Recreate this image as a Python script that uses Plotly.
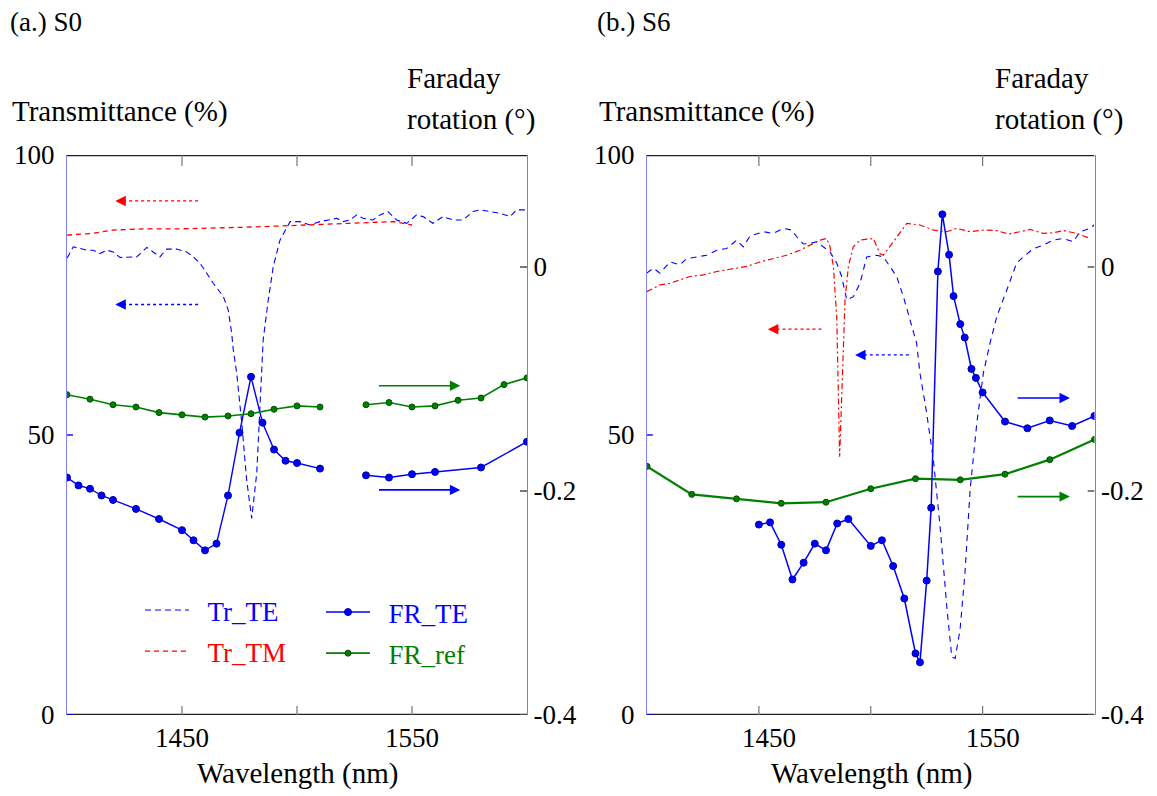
import plotly.graph_objects as go

W, H = 1157, 796
FONT = "Liberation Serif, Times New Roman, serif"
BLUE, RED, GREEN = "#0000ff", "#ff0000", "#008000"

# ---------------- Panel (a) S0 ----------------
a_tr_te_wl = [1400.1, 1402.7, 1405.7, 1408.6, 1411.4, 1414.3, 1417.3, 1420.1, 1423.0, 1426.0, 1430.3, 1434.7,
              1437.5, 1440.4, 1443.3, 1447.7, 1452.0, 1454.9, 1457.8, 1460.7, 1463.6, 1468.0, 1470.1, 1471.6,
              1472.3, 1473.8, 1476.0, 1478.1, 1480.3, 1482.5, 1483.9, 1485.3, 1487.5, 1489.7, 1492.6, 1497.0,
              1501.3, 1505.7, 1510.0, 1514.3, 1517.3, 1520.0, 1523.0, 1526.0, 1528.7, 1533.0, 1536.1, 1539.6,
              1543.3, 1547.7, 1552.0, 1554.8, 1559.1, 1563.5, 1567.8, 1572.2, 1576.5, 1579.6, 1583.9, 1588.3,
              1592.6, 1595.5, 1599.1]
a_tr_te = [81.6, 83.6, 83.3, 83.0, 83.0, 82.4, 83.0, 82.7, 81.7, 81.7, 81.8, 83.5, 82.7, 81.8, 83.2, 83.2, 82.7,
           81.8, 80.7, 78.9, 77.1, 74.7, 72.3, 68.2, 65.2, 61.0, 52.1, 42.0, 35.1, 43.2, 55.1, 67.0, 74.1, 80.1,
           84.8, 88.1, 88.1, 87.5, 88.1, 88.4, 88.7, 88.1, 88.4, 89.3, 88.7, 88.4, 89.3, 89.9, 88.4, 87.8, 89.3,
           89.0, 87.8, 89.0, 88.4, 88.4, 89.9, 90.2, 89.9, 89.6, 89.0, 90.2, 90.2]

a_tr_tm_wl = [1400, 1411, 1420, 1433, 1448, 1462, 1477, 1491, 1506, 1520, 1535, 1542, 1550]
a_tr_tm = [85.7, 86.0, 86.6, 86.8, 86.8, 86.9, 87.1, 87.3, 87.5, 87.8, 87.9, 88.1, 87.5]

a_fr_ref_wl = [1400, 1410, 1420, 1430, 1440, 1450, 1460, 1470, 1480, 1490, 1500, 1510, 1520,
               1530, 1540, 1550, 1560, 1570, 1580, 1590, 1600]
a_fr_ref = [-0.114, -0.118, -0.123, -0.125, -0.130, -0.132, -0.134, -0.133, -0.131, -0.127, -0.124, -0.125, None,
            -0.123, -0.121, -0.125, -0.124, -0.119, -0.117, -0.105, -0.099]

a_fr_te_wl = [1400, 1405, 1410, 1415, 1420, 1430, 1440, 1450, 1455, 1460, 1465, 1470, 1475, 1480, 1485, 1490,
              1495, 1500, 1510, 1520, 1530, 1540, 1550, 1560, 1580, 1600]
a_fr_te = [-0.188, -0.195, -0.198, -0.204, -0.208, -0.216, -0.225, -0.235, -0.244, -0.253, -0.247, -0.204, -0.148,
           -0.098, -0.139, -0.163, -0.173, -0.175, -0.180, None, -0.186, -0.188, -0.185, -0.183, -0.179, -0.156]

# ---------------- Panel (b) S6 ----------------
b_tr_te_wl = [1399.9, 1402.8, 1405.8, 1410.3, 1414.7, 1417.7, 1422.2, 1426.7, 1431.2, 1435.6, 1440.1, 1443.0,
              1446.0, 1452.0, 1456.4, 1460.9, 1464.7, 1466.9, 1469.9, 1472.8, 1475.8, 1478.8, 1481.8, 1484.8,
              1487.0, 1489.3, 1492.2, 1495.2, 1498.2, 1502.7, 1505.6, 1508.6, 1511.6, 1514.6, 1517.5, 1520.5,
              1522.0, 1525.0, 1528.0, 1531.0, 1534.0, 1536.2, 1537.7, 1539.9, 1542.1, 1544.4, 1547.4, 1550.3,
              1553.3, 1556.3, 1560.8, 1565.2, 1568.2, 1572.7, 1577.1, 1581.6, 1586.1, 1590.5, 1593.5, 1598.0,
              1599.8]
b_tr_te = [78.9, 79.8, 78.9, 80.9, 80.4, 81.5, 81.8, 82.1, 83.0, 83.3, 84.8, 83.6, 85.5, 86.3, 86.0, 86.9, 86.6,
           85.4, 84.1, 84.2, 84.5, 83.6, 82.7, 80.7, 78.3, 74.1, 74.7, 77.1, 81.8, 82.1, 81.8, 80.1, 78.3, 74.7,
           70.5, 66.4, 61.0, 53.9, 45.5, 33.6, 19.3, 10.4, 10.1, 15.2, 25.3, 40.2, 52.1, 61.0, 66.4, 71.1, 75.9,
           80.7, 81.8, 83.3, 83.9, 84.8, 85.1, 84.5, 86.3, 86.9, 87.5]

b_tr_tm_wl = [1399.9, 1405.8, 1410.3, 1414.7, 1419.2, 1425.2, 1431.2, 1437.1, 1444.6, 1450.5, 1456.4, 1462.4,
              1468.4, 1472.8, 1477.3, 1480.3, 1481.8, 1483.3, 1484.8, 1486.1, 1488.0, 1488.5, 1490.0, 1492.2,
              1495.2, 1501.1, 1504.1, 1505.6, 1510.1, 1516.1, 1522.0, 1528.0, 1533.9, 1538.4, 1544.4, 1550.3,
              1556.3, 1561.5, 1566.7, 1571.2, 1577.1, 1581.6, 1586.1, 1592.0, 1598.0]
b_tr_tm = [75.6, 76.8, 77.1, 77.7, 78.3, 78.6, 79.2, 79.6, 80.1, 80.9, 81.5, 82.1, 83.0, 83.9, 84.8, 85.1, 83.6,
           80.1, 71.1, 46.1, 67.0, 74.1, 80.1, 83.6, 84.8, 85.1, 82.4, 82.1, 84.5, 87.8, 87.5, 86.6, 86.3, 86.9,
           86.3, 86.6, 86.5, 85.9, 86.3, 86.7, 86.0, 86.1, 86.5, 86.0, 85.1]

b_fr_ref_wl = [1400, 1420, 1440, 1460, 1480, 1500, 1520, 1540, 1560, 1580, 1600]
b_fr_ref = [-0.178, -0.203, -0.207, -0.211, -0.210, -0.198, -0.189, -0.190, -0.185, -0.172, -0.154]

b_fr_te_wl = [1450, 1455, 1460, 1465, 1470, 1475, 1480, 1485, 1490, 1500, 1505, 1510, 1515, 1520, 1522, 1525,
              1527, 1530, 1532, 1535, 1537, 1540, 1542, 1545, 1547, 1550, 1560, 1570, 1580, 1590, 1600]
b_fr_te = [-0.230, -0.228, -0.248, -0.279, -0.264, -0.247, -0.253, -0.229, -0.225, -0.249, -0.244, -0.267, -0.296,
           -0.345, -0.353, -0.280, -0.215, -0.004, 0.047, 0.011, -0.026, -0.051, -0.063, -0.091, -0.099, -0.112,
           -0.138, -0.144, -0.137, -0.142, -0.133]

# Axis ranges and ticks
x_range = [1400, 1600]
t_range = [0, 100]
fr_range = [-0.4, 0.1]
x_ticks = [1450, 1500, 1550]
x_ticktext = ["1450", "", "1550"]
t_ticks = [0, 50, 100]
fr_ticks = [0, -0.2, -0.4]
fr_ticktext = ["0", "-0.2", "-0.4"]

# Direction arrows: (panel, axis, x_tail, x_head, y, color, dotted)
arrows = [
    ("a", "T", 1457, 1421, 91.8, RED, True),
    ("a", "T", 1457, 1421, 73.3, BLUE, True),
    ("a", "FR", 1535, 1571, -0.106, GREEN, False),
    ("a", "FR", 1535, 1571, -0.199, BLUE, False),
    ("b", "T", 1478, 1454, 68.9, RED, True),
    ("b", "T", 1517, 1493, 64.3, BLUE, True),
    ("b", "FR", 1565, 1589, -0.117, BLUE, False),
    ("b", "FR", 1565, 1589, -0.205, GREEN, False),
]

fig = go.Figure()

def col(name, c):
    return f"<span style='color:{c}'>&nbsp;&nbsp;{name}</span>"

marker_blue = dict(symbol="circle", size=7, color=BLUE, line=dict(color="#0000a0", width=1))
marker_green = dict(symbol="circle", size=6, color=GREEN, line=dict(color="#005000", width=1))

# Panel a traces
fig.add_trace(go.Scatter(x=a_tr_te_wl, y=a_tr_te, mode="lines", name=col("Tr_TE", BLUE),
                         line=dict(color=BLUE, width=1.1, dash="6px,4px"), xaxis="x", yaxis="y",
                         legend="legend", legendgroup="g1"))
fig.add_trace(go.Scatter(x=a_tr_tm_wl, y=a_tr_tm, mode="lines", name=col("Tr_TM", RED),
                         line=dict(color=RED, width=1.3, dash="5px,4px"), xaxis="x", yaxis="y",
                         legend="legend", legendgroup="g2"))
fig.add_trace(go.Scatter(x=a_fr_te_wl, y=a_fr_te, mode="lines+markers", name=col("FR_TE", BLUE),
                         line=dict(color=BLUE, width=1.4), marker=marker_blue, xaxis="x", yaxis="y2",
                         connectgaps=False, legend="legend2", legendgroup="g3"))
fig.add_trace(go.Scatter(x=a_fr_ref_wl, y=a_fr_ref, mode="lines+markers", name=col("FR_ref", GREEN),
                         line=dict(color=GREEN, width=1.6), marker=marker_green, xaxis="x", yaxis="y2",
                         connectgaps=False, legend="legend2", legendgroup="g4"))

# Panel b traces
fig.add_trace(go.Scatter(x=b_tr_te_wl, y=b_tr_te, mode="lines", showlegend=False,
                         line=dict(color=BLUE, width=1.1, dash="6px,5px"), xaxis="x2", yaxis="y3"))
fig.add_trace(go.Scatter(x=b_tr_tm_wl, y=b_tr_tm, mode="lines", showlegend=False,
                         line=dict(color=RED, width=1.2, dash="6px,3px,2px,3px"), xaxis="x2", yaxis="y3"))
fig.add_trace(go.Scatter(x=b_fr_ref_wl, y=b_fr_ref, mode="lines+markers", showlegend=False,
                         line=dict(color=GREEN, width=2.2), marker=marker_green, xaxis="x2", yaxis="y4"))
fig.add_trace(go.Scatter(x=b_fr_te_wl, y=b_fr_te, mode="lines+markers", showlegend=False,
                         line=dict(color=BLUE, width=1.5), marker=marker_blue, xaxis="x2", yaxis="y4"))

# Frame edges and tick marks, drawn as plain line traces from the axis ranges / tick lists
PW, PH = 460.0, 560.0  # approx. panel size in px, used only for tick lengths
x_span = x_range[1] - x_range[0]
t_span = t_range[1] - t_range[0]
fr_span = fr_range[1] - fr_range[0]

def seg_trace(xs, ys, xa, ya, color, width):
    return go.Scatter(x=xs, y=ys, mode="lines", line=dict(color=color, width=width), showlegend=False,
                      hoverinfo="skip", xaxis=xa, yaxis=ya)

for xa, yl, yr in (("x", "y", "y2"), ("x2", "y3", "y4")):
    # top and bottom frame lines
    fig.add_trace(seg_trace([x_range[0], x_range[1], None, x_range[0], x_range[1]],
                            [t_range[0], t_range[0], None, t_range[1], t_range[1]], xa, yl, "#222222", 2.6))
    # x ticks (bottom, top)
    xs, ys = [], []
    for v in x_ticks:
        xs += [v, v, None, v, v, None]
        ys += [t_range[0], t_range[0] + 9 / PH * t_span, None, t_range[1] - 11 / PH * t_span, t_range[1], None]
    fig.add_trace(seg_trace(xs, ys, xa, yl, "#777777", 1.2))
    # left ticks
    xs, ys = [], []
    for v in t_ticks:
        xs += [x_range[0], x_range[0] + 6 / PW * x_span, None]
        ys += [v, v, None]
    fig.add_trace(seg_trace(xs, ys, xa, yl, BLUE, 1.4))
    # right ticks
    xs, ys = [], []
    for v in fr_ticks:
        xs += [x_range[1] - 7 / PW * x_span, x_range[1], None]
        ys += [v, v, None]
    fig.add_trace(seg_trace(xs, ys, xa, yr, "#555555", 1.6))

shapes, annotations = [], []

# Arrows
for panel, ax_kind, xt, xh, yv, c, dotted in arrows:
    xref = "x" if panel == "a" else "x2"
    if panel == "a":
        yref = "y" if ax_kind == "T" else "y2"
    else:
        yref = "y3" if ax_kind == "T" else "y4"
    if dotted:
        shapes.append(dict(type="line", xref=xref, yref=yref, x0=xt, x1=xh, y0=yv, y1=yv,
                           line=dict(color=c, width=1.4, dash="dot")))
        annotations.append(dict(xref=xref, yref=yref, x=xh, y=yv, ax=(8 if xh < xt else -8), ay=0,
                                showarrow=True, arrowhead=2, arrowsize=1.5, arrowwidth=1.4,
                                arrowcolor=c, text=""))
    else:
        annotations.append(dict(xref=xref, yref=yref, x=xh, y=yv, ax=xt, ay=yv, axref=xref, ayref=yref,
                                showarrow=True, arrowhead=2, arrowsize=1.3, arrowwidth=1.6,
                                arrowcolor=c, text=""))

def paper(px, py):
    return px / W, 1 - py / H

def text_ann(s, px, py, size=27, anchor="left"):
    x, y = paper(px, py)
    return dict(xref="paper", yref="paper", x=x, y=y, text=s, showarrow=False, xanchor=anchor,
                yanchor="middle", font=dict(family=FONT, size=size, color="black"))

annotations += [
    text_ann("(a.) S0", 8, 22),
    text_ann("(b.) S6", 595, 22),
    text_ann("Transmittance (%)", 10, 112, 29),
    text_ann("Transmittance (%)", 597, 112, 29),
    text_ann("Faraday", 405, 78, 29),
    text_ann("rotation (°)", 405, 120, 29),
    text_ann("Faraday", 993, 78, 29),
    text_ann("rotation (°)", 993, 120, 29),
    text_ann("Wavelength (nm)", 297, 773, 29, "center"),
    text_ann("Wavelength (nm)", 871, 773, 29, "center"),
]

tick_font = dict(family=FONT, size=27, color="black")
Y_DOM = [1 - 715 / H, 1 - 155 / H]

def xaxis(dom, anchor, shift=0):
    d = dict(domain=dom, anchor=anchor, range=x_range, tickvals=x_ticks, ticktext=x_ticktext,
             ticks="", showline=False, showgrid=False, zeroline=False, tickfont=tick_font,
             ticklabelstandoff=4, automargin=False)
    if shift:
        d["ticklabelshift"] = shift
    return d

def yleft(anchor):
    return dict(domain=Y_DOM, anchor=anchor, range=t_range, tickvals=t_ticks, ticks="",
                showline=True, linecolor="#8080ff", linewidth=1.2, showgrid=False,
                zeroline=False, tickfont=tick_font, ticklabelstandoff=6, automargin=False)

def yright(anchor, over):
    return dict(domain=Y_DOM, anchor=anchor, overlaying=over, side="right", range=fr_range,
                tickvals=fr_ticks, ticktext=fr_ticktext, ticks="",
                showline=True, linecolor="#888888", linewidth=1.4, showgrid=False, zeroline=False,
                tickfont=tick_font, ticklabelstandoff=0, automargin=False)

legend_common = dict(bgcolor="rgba(0,0,0,0)", borderwidth=0, font=dict(family=FONT, size=27),
                     tracegroupgap=3, itemwidth=44, xanchor="left", yanchor="top", orientation="v")

fig.update_layout(
    width=W, height=H, margin=dict(l=0, r=0, t=0, b=0),
    paper_bgcolor="white", plot_bgcolor="white",
    xaxis=xaxis([67 / W, 527 / W], "y"),
    yaxis=yleft("x"),
    yaxis2=yright("x", "y"),
    xaxis2=xaxis([647 / W, 1094.5 / W], "y3", shift=10),
    yaxis3=yleft("x2"),
    yaxis4=yright("x2", "y3"),
    legend=dict(x=140 / W, y=1 - 586 / H, **legend_common),
    legend2=dict(x=321 / W, y=1 - 588 / H, **legend_common),
    shapes=shapes, annotations=annotations,
    font=dict(family=FONT, size=27, color="black"),
)

fig.write_html("out.html", config={"displayModeBar": False},
               post_script="document.body.style.margin='0px';")
